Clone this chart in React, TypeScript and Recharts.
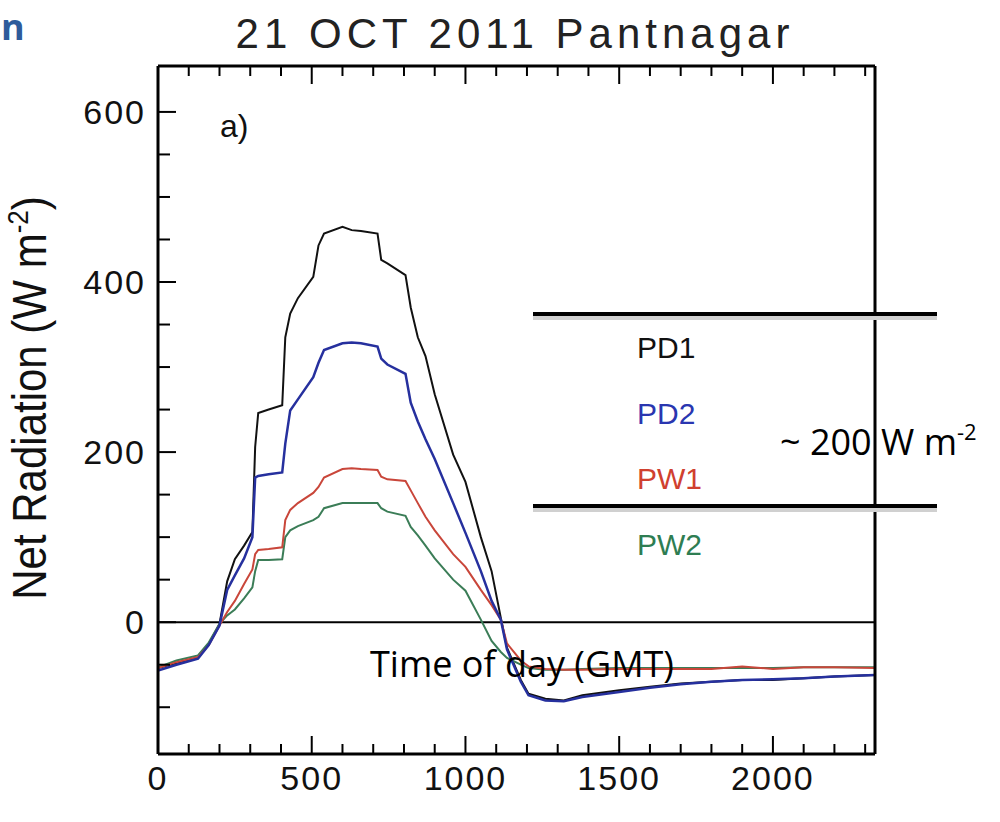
import React from 'react'
import { LineChart, Line, XAxis, YAxis, ReferenceLine } from 'recharts'

// time of day (GMT, hhmm) and net radiation (W m-2) per site
const TIME = [0, 60, 130, 165, 200, 225, 250, 280, 307, 316, 326, 360, 404, 414, 430, 455, 505, 522, 540, 600, 630, 660, 714, 726, 746, 805, 822, 845, 870, 900, 960, 1000, 1050, 1085, 1115, 1135, 1180, 1205, 1260, 1320, 1380, 1500, 1600, 1700, 1800, 1900, 2000, 2100, 2200, 2332]
const PD1 = [-54, -48, -42, -26, -2, 48, 74, 90, 106, 206, 246, 250, 255, 335, 363, 381, 406, 443, 457, 465, 461, 460, 457, 426, 422, 408, 370, 335, 313, 268, 197, 165, 100, 60, 5, -30, -68, -84, -90, -92, -86, -80, -76, -72, -70, -68, -68, -66, -64, -62]
const PD2 = [-57, -50, -43, -27, -4, 38, 55, 75, 100, 170, 172, 174, 176, 210, 249, 262, 288, 305, 320, 328, 329, 328, 324, 310, 303, 292, 258, 236, 215, 192, 140, 105, 60, 25, 3, -32, -70, -86, -92, -93, -88, -82, -77, -73, -70, -68, -67, -66, -64, -62]
const PW1 = [-54, -47, -41, -27, -4, 12, 25, 45, 62, 80, 85, 86, 88, 120, 132, 140, 152, 159, 170, 180, 181, 180, 179, 171, 168, 166, 155, 140, 124, 108, 80, 65, 38, 20, 3, -25, -45, -52, -55, -56, -56, -55, -55, -55, -55, -52, -55, -53, -53, -54]
const PW2 = [-53, -45, -39, -24, -2, 8, 15, 28, 41, 60, 73, 73, 74, 100, 108, 113, 120, 124, 134, 140, 140, 140, 140, 134, 130, 125, 112, 102, 90, 75, 50, 37, 3, -22, -35, -42, -50, -54, -56, -56, -55, -54, -54, -54, -54, -54, -54, -53, -53, -53]

const X_TICKS = [0, 100, 200, 300, 400, 500, 600, 700, 800, 900, 1000, 1100, 1200, 1300, 1400, 1500, 1600, 1700, 1800, 1900, 2000, 2100, 2200, 2300]
const Y_TICKS = [-100, -50, 0, 50, 100, 150, 200, 250, 300, 350, 400, 450, 500, 550, 600]

const SERIES = [
  { key: 'PD1', color: '#111111', width: 2 },
  { key: 'PW2', color: '#3b7d57', width: 2 },
  { key: 'PW1', color: '#c9463a', width: 2 },
  { key: 'PD2', color: '#26309e', width: 2.5 },
]
const LEGEND = [
  { name: 'PD1', color: '#111111' },
  { name: 'PD2', color: '#2a36b0' },
  { name: 'PW1', color: '#d0402f' },
  { name: 'PW2', color: '#2e7d52' },
]

const data = TIME.map((t, i) => ({ time: t, PD1: PD1[i], PD2: PD2[i], PW1: PW1[i], PW2: PW2[i] }))

const PIX = '"Liberation Sans", Arial, sans-serif'
const CAL = '"Open Sans", sans-serif'

const BottomTick = ({ x, y, payload }: any) => {
  const major = payload.value % 500 === 0
  return (
    <g>
      <line x1={x} x2={x} y1={y} y2={y - (major ? 18 : 10)} stroke="#000" strokeWidth={2} />
      {major && (
        <text x={x} y={y + 36} textAnchor="middle" fontFamily={PIX} fontSize={34} letterSpacing={2} fill="#111">
          {payload.value}
        </text>
      )}
    </g>
  )
}

const TopTick = ({ x, y, payload }: any) => {
  const major = payload.value % 500 === 0
  return <line x1={x} x2={x} y1={y} y2={y + (major ? 18 : 10)} stroke="#000" strokeWidth={2} />
}

const LeftTick = ({ x, y, payload }: any) => {
  const major = payload.value % 200 === 0
  return (
    <g>
      <line x1={x} x2={x + (major ? 18 : 12)} y1={y} y2={y} stroke="#000" strokeWidth={2} />
      {major && (
        <text x={x - 12} y={y + 12} textAnchor="end" fontFamily={PIX} fontSize={34} letterSpacing={2} fill="#111">
          {payload.value}
        </text>
      )}
    </g>
  )
}

const RightTick = ({ x, y, payload }: any) => {
  const major = payload.value % 200 === 0
  return <line x1={x} x2={x - (major ? 18 : 12)} y1={y} y2={y} stroke="#000" strokeWidth={2} />
}

export default function App() {
  return (
    <div style={{ position: 'absolute', left: 0, top: 0, width: 1000, height: 822, background: '#fff', overflow: 'hidden' }}>
      <LineChart width={1000} height={822} data={data} margin={{ top: 65, right: 124, bottom: 67, left: 157 }}>
        <XAxis
          dataKey="time" type="number" domain={[0, 2332]} ticks={X_TICKS} allowDataOverflow
          height={1} tickSize={0} tickMargin={0} tickLine={false} interval={0}
          axisLine={{ stroke: '#000', strokeWidth: 3 }} tick={BottomTick}
        />
        <XAxis
          xAxisId="top" orientation="top" dataKey="time" type="number" domain={[0, 2332]} ticks={X_TICKS}
          height={1} tickSize={0} tickMargin={0} tickLine={false} interval={0}
          axisLine={{ stroke: '#000', strokeWidth: 3 }} tick={TopTick}
        />
        <YAxis
          type="number" domain={[-155, 654]} ticks={Y_TICKS} allowDataOverflow
          width={1} tickSize={0} tickMargin={0} tickLine={false} interval={0}
          axisLine={{ stroke: '#000', strokeWidth: 3 }} tick={LeftTick}
        />
        <YAxis
          yAxisId="right" orientation="right" type="number" domain={[-155, 654]} ticks={Y_TICKS}
          width={1} tickSize={0} tickMargin={0} tickLine={false} interval={0}
          axisLine={{ stroke: '#000', strokeWidth: 3 }} tick={RightTick}
        />
        <ReferenceLine y={0} stroke="#000" strokeWidth={2} />
        {SERIES.map((s) => (
          <Line
            key={s.key} dataKey={s.key} type="linear" stroke={s.color} strokeWidth={s.width}
            dot={false} isAnimationActive={false}
          />
        ))}
      </LineChart>

      {/* titles and overlaid annotations */}
      <svg width={1000} height={822} style={{ position: 'absolute', left: 0, top: 0, pointerEvents: 'none' }}>
        <text x={1} y={40} fontFamily={CAL} fontWeight={700} fontSize={36} fill="#2e5b9a">n</text>
        <text x={515} y={48} textAnchor="middle" fontFamily={PIX} fontSize={42} letterSpacing={5} fill="#222">
          21 OCT 2011 Pantnagar
        </text>
        <text x={220} y={137} fontFamily={PIX} fontSize={32} fill="#111">a)</text>
        <text transform="translate(46,398) rotate(-90) scale(1,1.15)" textAnchor="middle" fontFamily={PIX} fontSize={42} fill="#111">
          Net Radiation (W m<tspan fontSize={26} dy={-16}>-2</tspan><tspan dy={16}>)</tspan>
        </text>

        <line x1={533} x2={937} y1={318} y2={318} stroke="#d0d0d0" strokeWidth={4} />
        <line x1={533} x2={937} y1={314} y2={314} stroke="#000" strokeWidth={4} />
        <line x1={533} x2={937} y1={510} y2={510} stroke="#d0d0d0" strokeWidth={4} />
        <line x1={533} x2={937} y1={506} y2={506} stroke="#000" strokeWidth={4} />
        {LEGEND.map((l, i) => (
          <text key={l.name} x={637} y={358 + i * 65.5} fontFamily={PIX} fontSize={30} fill={l.color}>{l.name}</text>
        ))}

        <text x={780} y={455} fontFamily={CAL} fontSize={36} fill="#000">
          ~ 200 W m<tspan fontSize={22} dy={-15}>-2</tspan>
        </text>
        <text x={370} y={677} fontFamily={CAL} fontSize={36} fill="#000">Time of day (GMT)</text>
      </svg>
    </div>
  )
}
